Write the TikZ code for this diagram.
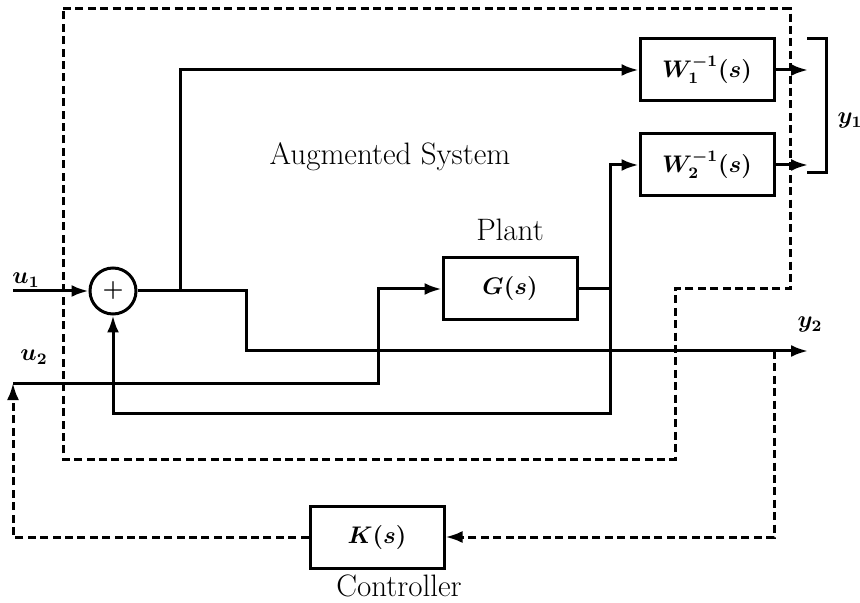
\documentclass[tikz,border=0pt]{standalone}
\usepackage{amsmath}
\usetikzlibrary{arrows.meta}

\begin{document}
\begin{tikzpicture}[x=0.5pt,y=-0.5pt,line width=1.5pt,
  >={Latex[length=8.5pt,width=6pt]},
  blk/.style={draw,rectangle,minimum width=67pt,minimum height=31pt,inner sep=0pt,font=\large\boldmath},
  lbl/.style={font=\large\boldmath},
  txt/.style={font=\fontsize{15.5}{19}\selectfont},
  bound/.style={dash pattern=on 4pt off 2.2pt}]

\useasboundingbox (0,0) rectangle (860,603);

% augmented system boundary
\draw[bound] (63,9) -- (790,9) -- (790,289) -- (675,289) -- (675,459) -- (63,459) -- cycle;
\node[txt] (aug) at (390,157) {Augmented System};

% sum node
\node[draw,circle,minimum size=23pt,inner sep=0pt,font=\large\boldmath] (sum) at (113,291) {$+$};

% input u1
\coordinate (u1 in) at (13,291);
\node[lbl] (u1) at (26,280) {$u_1$};

% input u2
\coordinate (u2 in) at (13,383);
\node[lbl] (u2) at (34,357) {$u_2$};

% plant node
\node[blk] (G) at (510,289) {$G(s)$};
\node[txt,above=4pt] (plant) at (G.north) {Plant};

% weight nodes
\node[blk] (W1) at (707,70) {$W_1^{-1}(s)$};
\node[blk] (W2) at (707,165) {$W_2^{-1}(s)$};

% controller node
\node[blk] (K) at (377,537) {$K(s)$};
\node[txt,below=-1.5pt,xshift=11pt] (ctrl) at (K.south) {Controller};

% junctions and outputs
\coordinate (branch) at (180,291);
\coordinate (split) at (246,291);
\coordinate (gout) at (610,289);
\coordinate (y1a) at (808,70);
\coordinate (y1b) at (808,165);
\coordinate (y2 end) at (808,351);
\coordinate (meas) at (774,351);

\draw[->] (u1 in) -- (sum.west);
\draw[->] (sum.east) -- (split) |- (y2 end);
\draw[->] (branch) |- (W1.west);
\draw[->] (u2 in) -- (378,383) |- (G.west);
\draw (G.east) -- (gout);
\draw[->] (gout) |- (W2.west);
\draw[->] (gout) -- (610,413) -| (sum.south);
\draw[->] (W1.east) -- (y1a);
\draw[->] (W2.east) -- (y1b);

% y1 bracket
\draw (807,39) -- (826,39) -- (826,173) -- (807,173);
\node[lbl] (y1) at (850,121) {$y_1$};
\node[lbl] (y2) at (810,325) {$y_2$};

% feedback loop
\draw[bound,->] (meas) |- (K.east);
\draw[bound,->] (K.west) -| (u2 in);

\end{tikzpicture}
\end{document}
